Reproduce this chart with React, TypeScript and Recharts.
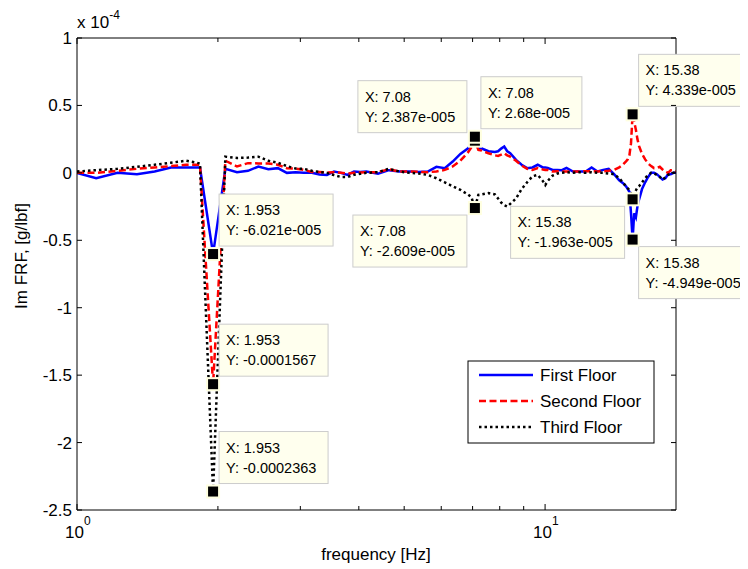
import React from 'react';
import { ComposedChart, Line, XAxis, YAxis, ReferenceDot } from 'recharts';

// frequency bins [Hz]
const freqHz = [
  1.0, 1.099, 1.221, 1.343, 1.465, 1.587, 1.709, 1.831, 1.953, 2.075,
  2.197, 2.319, 2.441, 2.563, 2.686, 2.808, 2.93, 3.052, 3.174, 3.296,
  3.418, 3.54, 3.662, 3.784, 3.906, 4.028, 4.15, 4.395, 4.639, 4.883,
  5.127, 5.371, 5.615, 5.859, 6.104, 6.348, 6.592, 6.836, 6.958, 7.08,
  7.202, 7.324, 7.568, 7.813, 7.935, 8.057, 8.179, 8.301, 8.423, 8.667,
  8.911, 9.155, 9.399, 9.644, 9.888, 10.01, 10.13, 10.38, 10.62, 10.86,
  11.11, 11.47, 11.84, 12.21, 12.57, 12.94, 13.31, 13.67, 14.04, 14.4,
  14.65, 14.89, 15.02, 15.14, 15.26, 15.38, 15.5, 15.63, 15.75, 15.87,
  16.11, 16.36, 16.6, 16.85, 17.09, 17.33, 17.58, 17.82, 18.07, 18.31,
  18.55, 18.8, 19.04,
];

// Im FRF values, in units of 1e-4 g/lbf
const firstFloor = [
  0, -0.04, 0, -0.01, 0.01, 0.04, 0.04, 0.04, -0.6021, 0.03,
  0.005, 0.015, 0.047, 0.027, 0.035, 0, 0.005, 0, 0, -0.012,
  -0.015, 0.01, 0, -0.015, 0.01, 0.007, 0.01, -0.007, 0.02, 0.01,
  0.01, 0.007, 0.01, 0.045, 0.035, 0.084, 0.14, 0.18, 0.21, 0.268,
  0.183, 0.18, 0.16, 0.155, 0.16, 0.18, 0.195, 0.16, 0.146, 0.096,
  0.06, 0.035, 0.04, 0.06, 0.04, 0.04, 0.037, 0.022, 0.022, 0.02,
  0.037, 0.01, 0.01, 0.01, 0.04, 0.01, 0.022, 0.03, -0.01, -0.055,
  -0.075, -0.1, -0.12, -0.14, -0.3, -0.4949, -0.3, -0.33, -0.25, -0.2,
  -0.12, -0.07, -0.03, 0, 0, -0.01, -0.03, -0.05, -0.04, -0.01,
  -0.01, 0, 0,
];

const secondFloor = [
  0, 0, 0.015, 0.03, 0.04, 0.05, 0.06, 0.06, -1.567, 0.09,
  0.047, 0.072, 0.07, 0.07, 0.06, 0.035, 0.032, 0.022, 0.007, 0.007,
  0.002, 0.005, 0, -0.005, 0, 0.003, 0.005, 0.005, 0.027, 0.01,
  0.01, 0.007, 0.005, 0.01, 0.022, 0.047, 0.09, 0.15, 0.19, 0.2387,
  0.17, 0.165, 0.145, 0.13, 0.126, 0.135, 0.146, 0.13, 0.12, 0.09,
  0.054, 0.03, 0.022, 0.035, 0.025, 0.022, 0.022, 0.01, 0.012, 0.01,
  0.01, 0.01, 0.01, 0.012, 0.012, 0.01, 0.012, 0.015, 0.022, 0.04,
  0.06, 0.085, 0.1, 0.13, 0.22, 0.4339, 0.38, 0.32, 0.25, 0.2,
  0.14, 0.1, 0.07, 0.05, 0.035, 0.035, 0.045, 0.025, 0.01, 0,
  0.02, 0.02, 0.01,
];

const thirdFloor = [
  0.01, 0.02, 0.03, 0.045, 0.06, 0.075, 0.09, 0.07, -2.363, 0.12,
  0.11, 0.113, 0.12, 0.09, 0.075, 0.05, 0.032, 0.03, 0.015, 0.007,
  0, -0.017, -0.03, -0.03, -0.015, -0.007, 0, 0.005, 0.03, 0.01,
  0, -0.005, -0.015, -0.04, -0.07, -0.1, -0.126, -0.16, -0.18, -0.2609,
  -0.163, -0.16, -0.15, -0.16, -0.19, -0.22, -0.24, -0.25, -0.23, -0.19,
  -0.12, -0.07, -0.025, -0.015, -0.06, -0.09, -0.06, -0.02, -0.005, 0,
  0.005, 0, 0.005, 0, 0.005, 0, 0, -0.005, -0.01, -0.04,
  -0.07, -0.1, -0.115, -0.126, -0.15, -0.1963, -0.15, -0.13, -0.11, -0.1,
  -0.07, -0.04, -0.015, 0, -0.005, -0.015, -0.03, -0.05, -0.035, -0.015,
  -0.005, 0, 0,
];

// data tips
const tipFreq = [1.953, 1.953, 1.953, 7.08, 7.08, 7.08, 15.38, 15.38, 15.38];
const tipValue = [-0.6021, -1.567, -2.363, 0.2387, 0.268, -0.2609, -0.1963, 0.4339, -0.4949];
const tipCorner = ['ne', 'ne', 'ne', 'nw', 'ne', 'sw', 'sw', 'ne', 'se'];

const xTicks = [1, 2, 3, 4, 5, 6, 7, 8, 9, 10];
const yTicks = [-2.5, -2, -1.5, -1, -0.5, 0, 0.5, 1];

const seriesNames = ['First Floor', 'Second Floor', 'Third Floor'];

const rows = freqHz.map((f, i) => ({
  f,
  first: firstFloor[i],
  second: secondFloor[i],
  third: thirdFloor[i],
}));

const FONT = '"Liberation Sans", Arial, Helvetica, sans-serif';
const TIP_FS = 14.5;

const lineStyles = [
  { key: 'first', color: '#0000ff', dash: undefined as string | undefined },
  { key: 'second', color: '#ff0000', dash: '7 3.5' },
  { key: 'third', color: '#000000', dash: '2.5 3' },
];

function fmt(v: number): string {
  const a = Math.abs(v);
  if (a !== 0 && a < 1e-4) {
    const s = v.toExponential(3);
    const [mRaw, e] = s.split('e');
    const m = mRaw.replace(/\.?0+$/, '');
    const neg = e[0] === '-';
    const digits = e.replace(/^[+-]/, '').padStart(3, '0');
    return `${m}e${neg ? '-' : '+'}${digits}`;
  }
  return String(parseFloat(v.toPrecision(4)));
}

const charW: Record<string, number> = {
  X: 0.667, Y: 0.667, ':': 0.278, ' ': 0.278, '-': 0.333, '.': 0.278, e: 0.556,
};
function textWidth(s: string, size: number) {
  let w = 0;
  for (const c of s) w += charW[c] !== undefined ? charW[c] : 0.556;
  return w * size;
}

const BottomTick = (props: any) => {
  const { x, y, payload } = props;
  const v = payload.value;
  const major = v === 1 || v === 10;
  return (
    <g>
      <line x1={x} x2={x} y1={y} y2={y - (major ? 6 : 4)} stroke="#000" strokeWidth={1} />
      {major && (
        <text x={x - 12} y={y + 28} fontSize={17} fontFamily={FONT} fill="#000">
          10
          <tspan dy={-13} fontSize={12}>{String(Math.round(Math.log10(v)))}</tspan>
        </text>
      )}
    </g>
  );
};

const TopTick = (props: any) => {
  const { x, y, payload } = props;
  const v = payload.value;
  const major = v === 1 || v === 10;
  return <line x1={x} x2={x} y1={y} y2={y + (major ? 6 : 4)} stroke="#000" strokeWidth={1} />;
};

const LeftTick = (props: any) => {
  const { x, y, payload } = props;
  return (
    <g>
      <line x1={x} x2={x + 5} y1={y} y2={y} stroke="#000" strokeWidth={1} />
      <text x={x - 5} y={y + 6} textAnchor="end" fontSize={17} fontFamily={FONT} fill="#000">
        {String(payload.value)}
      </text>
    </g>
  );
};

const RightTick = (props: any) => {
  const { x, y } = props;
  return <line x1={x} x2={x - 5} y1={y} y2={y} stroke="#000" strokeWidth={1} />;
};

const TipBox = (props: any) => {
  const { cx, cy, xv, yv, corner } = props;
  if (cx == null || cy == null) return <g />;
  const l1 = `X: ${fmt(xv)}`;
  const l2 = `Y: ${fmt(yv * 1e-4)}`;
  const w = Math.round(Math.max(textWidth(l1, TIP_FS), textWidth(l2, TIP_FS))) + 18;
  const h = 52;
  const bx = corner.includes('e') ? cx + 6 : cx - 8 - w;
  const by = corner.includes('n') ? cy - 8 - h : cy + 7;
  return (
    <g>
      <rect x={bx} y={by} width={w} height={h} fill="#ffffee" stroke="#cccccc" strokeWidth={1} />
      <text x={bx + 7} y={by + 21} fontSize={TIP_FS} fontFamily={FONT} fill="#000">{l1}</text>
      <text x={bx + 7} y={by + 41} fontSize={TIP_FS} fontFamily={FONT} fill="#000">{l2}</text>
    </g>
  );
};

const TipMarker = (props: any) => {
  const { cx, cy } = props;
  if (cx == null || cy == null) return <g />;
  return (
    <g>
      <rect x={cx - 7} y={cy - 7} width={14} height={14} fill="#ffffe0" />
      <rect x={cx - 5} y={cy - 5} width={10} height={10} fill="#000" />
    </g>
  );
};

export default function App() {
  const W = 740;
  const H = 553;
  const HO = 561;
  return (
    <div style={{ position: 'relative', width: W, height: HO, background: '#fff' }}>
      <ComposedChart
        width={W}
        height={H}
        data={rows}
        margin={{ top: 0, right: 32, bottom: 21, left: 29 }}
      >
        <XAxis
          dataKey="f"
          type="number"
          scale="log"
          domain={[1, 19.04]}
          allowDataOverflow
          ticks={xTicks}
          interval={0}
          tickLine={false}
          tickSize={0}
          tickMargin={0}
          tick={(p: any) => <BottomTick {...p} />}
          axisLine={{ stroke: '#000', strokeWidth: 1 }}
          height={30}
        />
        <XAxis
          xAxisId="top"
          orientation="top"
          dataKey="f"
          type="number"
          scale="log"
          domain={[1, 19.04]}
          allowDataOverflow
          ticks={xTicks}
          interval={0}
          tickLine={false}
          tickSize={0}
          tickMargin={0}
          tick={(p: any) => <TopTick {...p} />}
          axisLine={{ stroke: '#000', strokeWidth: 1 }}
          height={30}
        />
        <YAxis
          type="number"
          domain={[-2.5, 1]}
          allowDataOverflow
          ticks={yTicks}
          interval={0}
          tickLine={false}
          tickSize={0}
          tickMargin={0}
          tick={(p: any) => <LeftTick {...p} />}
          axisLine={{ stroke: '#000', strokeWidth: 1 }}
          width={40}
        />
        <YAxis
          yAxisId="right"
          orientation="right"
          type="number"
          domain={[-2.5, 1]}
          allowDataOverflow
          ticks={yTicks}
          interval={0}
          tickLine={false}
          tickSize={0}
          tickMargin={0}
          tick={(p: any) => <RightTick {...p} />}
          axisLine={{ stroke: '#000', strokeWidth: 1 }}
          width={40}
        />
        {lineStyles.map((s, i) => (
          <Line
            key={s.key}
            name={seriesNames[i]}
            dataKey={s.key}
            type="linear"
            stroke={s.color}
            strokeWidth={2.5}
            strokeDasharray={s.dash}
            dot={false}
            activeDot={false}
            isAnimationActive={false}
          />
        ))}
        {tipFreq.map((fx, i) => (
          <ReferenceDot
            key={`box${i}`}
            x={fx}
            y={tipValue[i]}
            r={1}
            ifOverflow="visible"
            shape={(p: any) => <TipBox {...p} xv={fx} yv={tipValue[i]} corner={tipCorner[i]} />}
          />
        ))}
        {tipFreq.map((fx, i) => (
          <ReferenceDot
            key={`mk${i}`}
            x={fx}
            y={tipValue[i]}
            r={1}
            ifOverflow="visible"
            shape={(p: any) => <TipMarker {...p} />}
          />
        ))}
      </ComposedChart>
      <svg
        width={W}
        height={HO}
        style={{ position: 'absolute', left: 0, top: 0, pointerEvents: 'none' }}
      >
        <text x={69} y={20} fontSize={17} fontFamily={FONT} fill="#000">
          x 10
          <tspan dy={-9} fontSize={12}>-4</tspan>
        </text>
        <text
          x={19}
          y={248}
          transform="rotate(-90 19 248)"
          textAnchor="middle"
          fontSize={17}
          fontFamily={FONT}
          fill="#000"
        >
          Im FRF, [g/lbf]
        </text>
        <text x={368} y={552} textAnchor="middle" fontSize={17} fontFamily={FONT} fill="#000">
          frequency [Hz]
        </text>
        <rect x={460} y={353} width={186} height={82} fill="#fff" stroke="#000" strokeWidth={1} />
        {lineStyles.map((s, i) => (
          <g key={s.key}>
            <line
              x1={471}
              x2={525}
              y1={367 + i * 26}
              y2={367 + i * 26}
              stroke={s.color}
              strokeWidth={2.5}
              strokeDasharray={s.dash}
            />
            <text x={532} y={367 + i * 26 + 6} fontSize={17} fontFamily={FONT} fill="#000">
              {seriesNames[i]}
            </text>
          </g>
        ))}
      </svg>
    </div>
  );
}
